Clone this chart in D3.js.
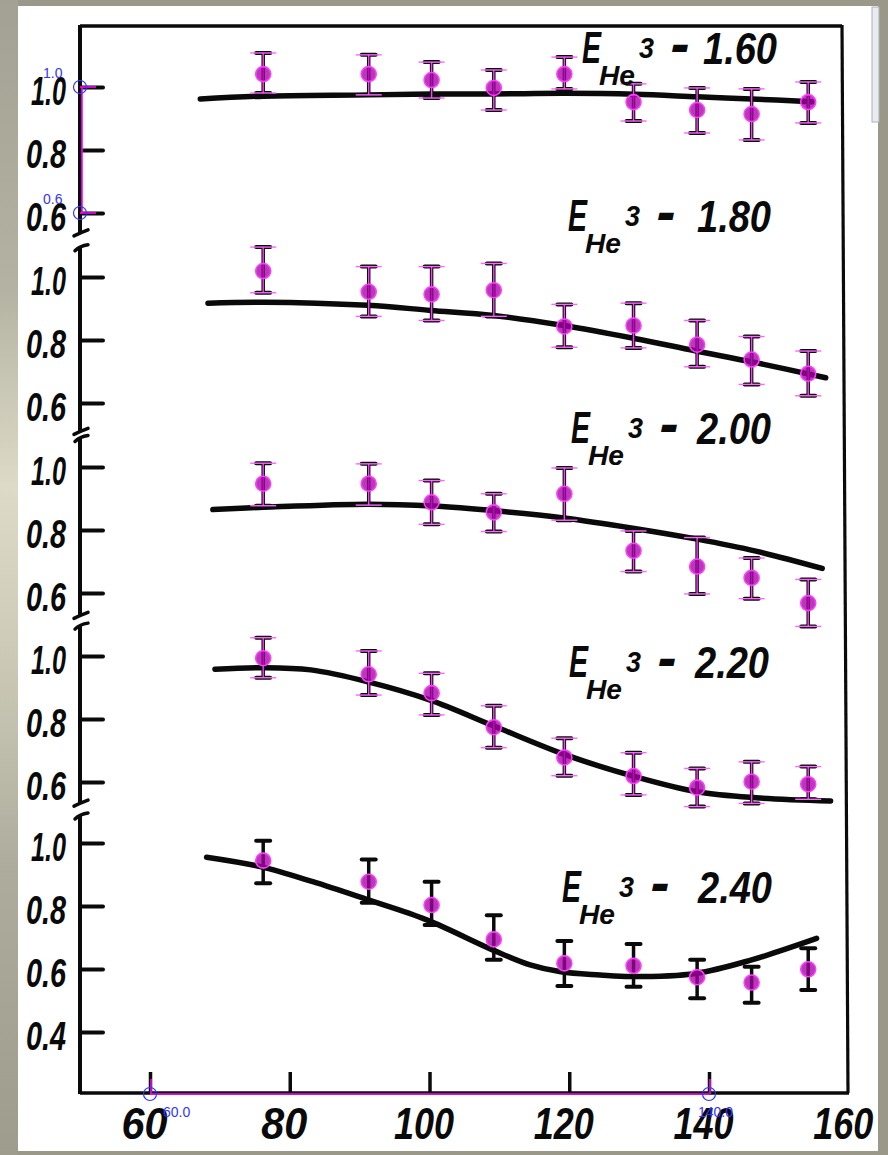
<!DOCTYPE html>
<html><head><meta charset="utf-8">
<script src="https://cdn.jsdelivr.net/npm/d3@7"></script>
<style>
html,body{margin:0;padding:0;background:#9b998a;}
svg{display:block;}
</style></head><body>
<svg id="chart" width="888" height="1155"></svg>
<script>
// Scattering angles (deg, c.m.) of the measured points
const angles = [76.2, 91.3, 100.3, 109.2, 119.3, 129.2, 138.3, 146.1, 154.2];
// He3 energies of the five panels
const energies = ["1.60", "1.80", "2.00", "2.20", "2.40"];

// Measured ratio with upper / lower error limits
const ratio160 = [1.041, 1.041, 1.022, 0.997, 1.041, 0.952, 0.927, 0.914, 0.952];
const hi160    = [1.108, 1.102, 1.079, 1.054, 1.095, 1.010, 0.997, 0.994, 1.016];
const lo160    = [0.981, 0.975, 0.965, 0.927, 0.994, 0.892, 0.854, 0.832, 0.886];

const ratio180 = [1.019, 0.953, 0.945, 0.958, 0.843, 0.846, 0.785, 0.738, 0.693];
const hi180    = [1.095, 1.033, 1.033, 1.043, 0.913, 0.917, 0.862, 0.811, 0.765];
const lo180    = [0.950, 0.875, 0.862, 0.875, 0.777, 0.775, 0.715, 0.659, 0.623];

const ratio200 = [0.947, 0.947, 0.888, 0.856, 0.915, 0.734, 0.684, 0.648, 0.568];
const hi200    = [1.012, 1.010, 0.957, 0.915, 0.997, 0.797, 0.776, 0.711, 0.643];
const lo200    = [0.877, 0.879, 0.818, 0.795, 0.831, 0.668, 0.597, 0.582, 0.494];

const ratio220 = [0.993, 0.942, 0.882, 0.774, 0.678, 0.619, 0.582, 0.601, 0.593];
const hi220    = [1.058, 1.016, 0.945, 0.842, 0.739, 0.693, 0.643, 0.664, 0.649];
const lo220    = [0.931, 0.876, 0.813, 0.709, 0.620, 0.559, 0.522, 0.532, 0.545];

const ratio240 = [0.944, 0.877, 0.803, 0.694, 0.618, 0.610, 0.574, 0.557, 0.599];
const hi240    = [1.007, 0.948, 0.877, 0.771, 0.689, 0.679, 0.629, 0.607, 0.666];
const lo240    = [0.872, 0.810, 0.740, 0.629, 0.546, 0.544, 0.507, 0.493, 0.533];

// Calculated curves: [angle, ratio]
const curve160 = [[67.2,0.962],[76.2,0.971],[91.3,0.975],[100.4,0.978],[109.2,0.978],[119.4,0.980],[129.4,0.977],[138.3,0.969],[146.1,0.962],[154.7,0.953]];
const curve180 = [[68.3,0.917],[76.2,0.920],[91.2,0.910],[100.2,0.894],[109.2,0.878],[119.2,0.846],[129.3,0.805],[138.0,0.766],[146.7,0.728],[156.7,0.680]];
const curve200 = [[69.0,0.865],[76.2,0.872],[91.2,0.882],[100.5,0.876],[109.7,0.860],[119.2,0.838],[129.3,0.805],[138.3,0.771],[146.7,0.733],[156.2,0.678]];
const curve220 = [[69.3,0.958],[76.2,0.963],[83.0,0.956],[91.2,0.918],[100.1,0.860],[109.4,0.776],[119.5,0.686],[129.4,0.617],[138.3,0.569],[146.7,0.550],[157.4,0.540]];
const curve240 = [[68.1,0.955],[75.8,0.925],[83.3,0.877],[91.0,0.821],[99.6,0.756],[109.1,0.660],[114.4,0.613],[118.8,0.591],[124.4,0.581],[128.8,0.576],[138.1,0.586],[146.1,0.629],[155.4,0.697]];

// Axis ticks
const xTicks = [60, 80, 100, 120, 140, 160];
const xTickLabels = ["60", "80", "100", "120", "140", "160"];
const yTicks = [1.0, 0.8, 0.6];
const yTickLabels = ["1.0", "0.8", "0.6"];
const yTicksLast = [1.0, 0.8, 0.6, 0.4];
const yTickLabelsLast = ["1.0", "0.8", "0.6", "0.4"];

// Digitizer calibration marks
const calibY = [1.0, 0.6];
const calibYLabels = ["1.0", "0.6"];
const calibX = [60, 140];
const calibXLabels = ["60.0", "140.0"];

const panels = [
  {e: energies[0], r: ratio160, hi: hi160, lo: lo160, curve: curve160, digit: true,  ticks: yTicks, labels: yTickLabels},
  {e: energies[1], r: ratio180, hi: hi180, lo: lo180, curve: curve180, digit: true,  ticks: yTicks, labels: yTickLabels},
  {e: energies[2], r: ratio200, hi: hi200, lo: lo200, curve: curve200, digit: true,  ticks: yTicks, labels: yTickLabels},
  {e: energies[3], r: ratio220, hi: hi220, lo: lo220, curve: curve220, digit: true,  ticks: yTicks, labels: yTickLabels},
  {e: energies[4], r: ratio240, hi: hi240, lo: lo240, curve: curve240, digit: false, ticks: yTicksLast, labels: yTickLabelsLast}
];

// ---- layout ----
const axisX = 80, frameTop = 26, axisBottom = 1093, frameRight0 = 842, frameRight1 = 848;
const panelTop = [87, 277, 467, 656, 843];      // pixel row of 1.0 in each panel
const unit = 315;                                // pixels per unit of ratio
const segHi = [null, 1.096, 1.094, 1.098, 1.089];
const segLo = [0.537, 0.510, 0.529, 0.533, null];
const labelAt = [[582, 63], [568, 231], [571, 443], [569, 677], [562, 902]];
const valueDx = [121, 129, 126, 126, 136];
const FONT = "'Liberation Sans', Arial, sans-serif";

const svg = d3.select("#chart");
const defs = svg.append("defs");
const g0 = defs.append("linearGradient").attr("id", "edge").attr("x1", 0).attr("y1", 0).attr("x2", 0).attr("y2", 1);
[[0, "#a3a193"], [0.25, "#b4b2a2"], [0.42, "#dddbc7"], [0.55, "#cfcdb9"], [0.75, "#aeac9d"], [1, "#9e9c8d"]]
  .forEach(([o, c]) => g0.append("stop").attr("offset", o).attr("stop-color", c));

// backdrop and paper
svg.append("rect").attr("width", 888).attr("height", 1155).attr("fill", "#9a9889");
svg.append("rect").attr("x", 0).attr("y", 0).attr("width", 18).attr("height", 1155).attr("fill", "url(#edge)");
svg.append("rect").attr("x", 18).attr("y", 6).attr("width", 860).attr("height", 1145).attr("fill", "#ffffff");
svg.append("rect").attr("x", 872).attr("y", 7).attr("width", 7).attr("height", 115)
  .attr("fill", "#e8ebf0").attr("stroke", "#aeb2ba").attr("stroke-width", 1);

const x = d3.scaleLinear().domain([60, 140]).range([150, 709]);
const yOf = i => d3.scaleLinear().domain([0.6, 1.0]).range([panelTop[i] + 0.4 * unit, panelTop[i]]);

const ink = "#0a0a0a";

// frame: top and right edges
svg.append("line").attr("x1", axisX).attr("y1", frameTop).attr("x2", frameRight0).attr("y2", frameTop)
  .attr("stroke", ink).attr("stroke-width", 3.5);
svg.append("line").attr("x1", frameRight0).attr("y1", frameTop - 1).attr("x2", frameRight1).attr("y2", axisBottom)
  .attr("stroke", ink).attr("stroke-width", 3.2);

// bottom axis
const xAxis = d3.axisBottom(x).tickValues(xTicks).tickFormat((d, i) => xTickLabels[i])
  .tickSizeInner(-21).tickSizeOuter(0).tickPadding(0);
const gx = svg.append("g").attr("transform", `translate(0,${axisBottom})`).call(xAxis);
gx.select(".domain").remove();
gx.append("line").attr("x1", axisX).attr("x2", frameRight1 + 1).attr("y1", 0).attr("y2", 0)
  .attr("stroke", ink).attr("stroke-width", 3.5);
gx.selectAll(".tick line").attr("stroke", ink).attr("stroke-width", 3.5)
  .attr("display", d => d === 160 ? "none" : null);
gx.selectAll(".tick text")
  .attr("fill", ink).attr("font-family", FONT).attr("font-style", "italic").attr("font-weight", "bold")
  .attr("font-size", 44).attr("dy", null).attr("y", 46).attr("x", -6)
  .attr("textLength", d => d >= 100 ? 60 : 46).attr("lengthAdjust", "spacingAndGlyphs");

// left axis, broken between panels
panels.forEach((p, i) => {
  const y = yOf(i);
  const yA = segHi[i] === null ? frameTop - 1 : y(segHi[i]);
  const yB = segLo[i] === null ? axisBottom + 1 : y(segLo[i]);
  svg.append("line").attr("x1", axisX).attr("x2", axisX).attr("y1", yA).attr("y2", yB)
    .attr("stroke", ink).attr("stroke-width", 4);
  if (segHi[i] !== null) {
    svg.append("path").attr("d", `M${axisX - 5},${yA + 4} Q${axisX},${yA - 1} ${axisX + 8},${yA - 2}`)
      .attr("fill", "none").attr("stroke", ink).attr("stroke-width", 3.5).attr("stroke-linecap", "round");
  }
  if (segLo[i] !== null) {
    svg.append("path").attr("d", `M${axisX - 6},${yB + 3} Q${axisX},${yB} ${axisX + 8},${yB - 3}`)
      .attr("fill", "none").attr("stroke", ink).attr("stroke-width", 3.5).attr("stroke-linecap", "round");
  }

  const yAxis = d3.axisLeft(y).tickValues(p.ticks).tickFormat((d, k) => p.labels[k])
    .tickSizeInner(-23).tickSizeOuter(0).tickPadding(14);
  const gy = svg.append("g").attr("transform", `translate(${axisX},0)`).call(yAxis);
  gy.select(".domain").remove();
  gy.selectAll(".tick line").attr("stroke", ink).attr("stroke-width", 4).attr("stroke-linecap", "round");
  gy.selectAll(".tick text")
    .attr("fill", ink).attr("font-family", FONT).attr("font-style", "italic").attr("font-weight", "bold")
    .attr("font-size", 41).attr("dy", "0.42em")
    .attr("textLength", d => d === 1.0 ? 35 : 40).attr("lengthAdjust", "spacingAndGlyphs");
});

// calculated curves
const line = d3.line().curve(d3.curveCatmullRom.alpha(0.5));
panels.forEach((p, i) => {
  const y = yOf(i);
  svg.append("path")
    .attr("d", line(p.curve.map(d => [x(d[0]), y(d[1])])))
    .attr("fill", "none").attr("stroke", ink).attr("stroke-width", 5.5)
    .attr("stroke-linecap", "round").attr("stroke-linejoin", "round");
});

// printed error bars
panels.forEach((p, i) => {
  const y = yOf(i);
  const g = svg.append("g");
  angles.forEach((a, k) => {
    const cx = x(a);
    g.append("line").attr("x1", cx).attr("x2", cx).attr("y1", y(p.hi[k])).attr("y2", y(p.lo[k]))
      .attr("stroke", ink).attr("stroke-width", 3.5);
    [p.hi[k], p.lo[k]].forEach(v => {
      g.append("line").attr("x1", cx - 7).attr("x2", cx + 7).attr("y1", y(v)).attr("y2", y(v))
        .attr("stroke", ink).attr("stroke-width", 4).attr("stroke-linecap", "round");
    });
  });
});

// digitized error bars and points
panels.forEach((p, i) => {
  const y = yOf(i);
  const g = svg.append("g");
  angles.forEach((a, k) => {
    const cx = x(a);
    if (p.digit) {
      g.append("line").attr("x1", cx).attr("x2", cx).attr("y1", y(p.hi[k])).attr("y2", y(p.lo[k]))
        .attr("stroke", "#ff3cff").attr("stroke-width", 1.4);
      [p.hi[k], p.lo[k]].forEach(v => {
        g.append("line").attr("x1", cx - 13).attr("x2", cx + 13).attr("y1", y(v)).attr("y2", y(v))
          .attr("stroke", "#ff66ff").attr("stroke-width", 1.4);
      });
    }
    g.append("circle").attr("cx", cx).attr("cy", y(p.r[k])).attr("r", 7.5)
      .attr("fill", "#a400a4").attr("fill-opacity", 0.78)
      .attr("stroke", "#ff3dff").attr("stroke-width", 1.6);
  });
});

// panel captions: E_He^3 - value
panels.forEach((p, i) => {
  const [lx, ly] = labelAt[i];
  const t = svg.append("g").attr("fill", ink).attr("font-family", FONT)
    .attr("font-style", "italic").attr("font-weight", "bold");
  t.append("text").attr("x", lx).attr("y", ly).attr("font-size", 44)
    .attr("textLength", 19).attr("lengthAdjust", "spacingAndGlyphs").text("E");
  t.append("text").attr("x", lx + 17).attr("y", ly + 22).attr("font-size", 28)
    .attr("textLength", 36).attr("lengthAdjust", "spacingAndGlyphs").text("He");
  t.append("text").attr("x", lx + 57).attr("y", ly - 5).attr("font-size", 29)
    .attr("textLength", 15).attr("lengthAdjust", "spacingAndGlyphs").text("3");
  t.append("text").attr("x", lx + 90).attr("y", ly - 3).attr("font-size", 44)
    .attr("stroke", ink).attr("stroke-width", 2)
    .attr("textLength", 16).attr("lengthAdjust", "spacingAndGlyphs").text("-");
  t.append("text").attr("x", lx + valueDx[i]).attr("y", ly + 1).attr("font-size", 44)
    .attr("textLength", 74).attr("lengthAdjust", "spacingAndGlyphs").text(p.e);
});

// digitizer calibration overlay
const y0 = yOf(0);
const cal = svg.append("g");
cal.append("line").attr("x1", axisX + 2).attr("x2", axisX + 2).attr("y1", y0(calibY[0])).attr("y2", y0(calibY[1]))
  .attr("stroke", "#ff00ff").attr("stroke-width", 1.6);
calibY.forEach((v, k) => {
  cal.append("line").attr("x1", axisX).attr("x2", axisX + 16).attr("y1", y0(v)).attr("y2", y0(v))
    .attr("stroke", "#ff00ff").attr("stroke-width", 1.6);
  cal.append("circle").attr("cx", axisX).attr("cy", y0(v)).attr("r", 6.5)
    .attr("fill", "none").attr("stroke", "#3434ff").attr("stroke-width", 1.2);
  cal.append("text").attr("x", axisX - 37).attr("y", y0(v) - 9).attr("font-family", FONT)
    .attr("font-size", 14).attr("fill", "#3434ff").text(calibYLabels[k]);
});
cal.append("line").attr("x1", x(calibX[0])).attr("x2", x(calibX[1])).attr("y1", axisBottom + 1).attr("y2", axisBottom + 1)
  .attr("stroke", "#ff00ff").attr("stroke-width", 1.6);
calibX.forEach((v, k) => {
  cal.append("line").attr("x1", x(v) + 1).attr("x2", x(v) + 1).attr("y1", axisBottom - 14).attr("y2", axisBottom + 1)
    .attr("stroke", "#ff00ff").attr("stroke-width", 1.6);
  cal.append("circle").attr("cx", x(v)).attr("cy", axisBottom + 1).attr("r", 6.5)
    .attr("fill", "none").attr("stroke", "#3434ff").attr("stroke-width", 1.2);
  cal.append("text").attr("x", x(v) + (k === 0 ? 13 : -11)).attr("y", axisBottom + 24).attr("font-family", FONT)
    .attr("font-size", 14).attr("fill", "#3434ff").text(calibXLabels[k]);
});
</script>
</body></html>
